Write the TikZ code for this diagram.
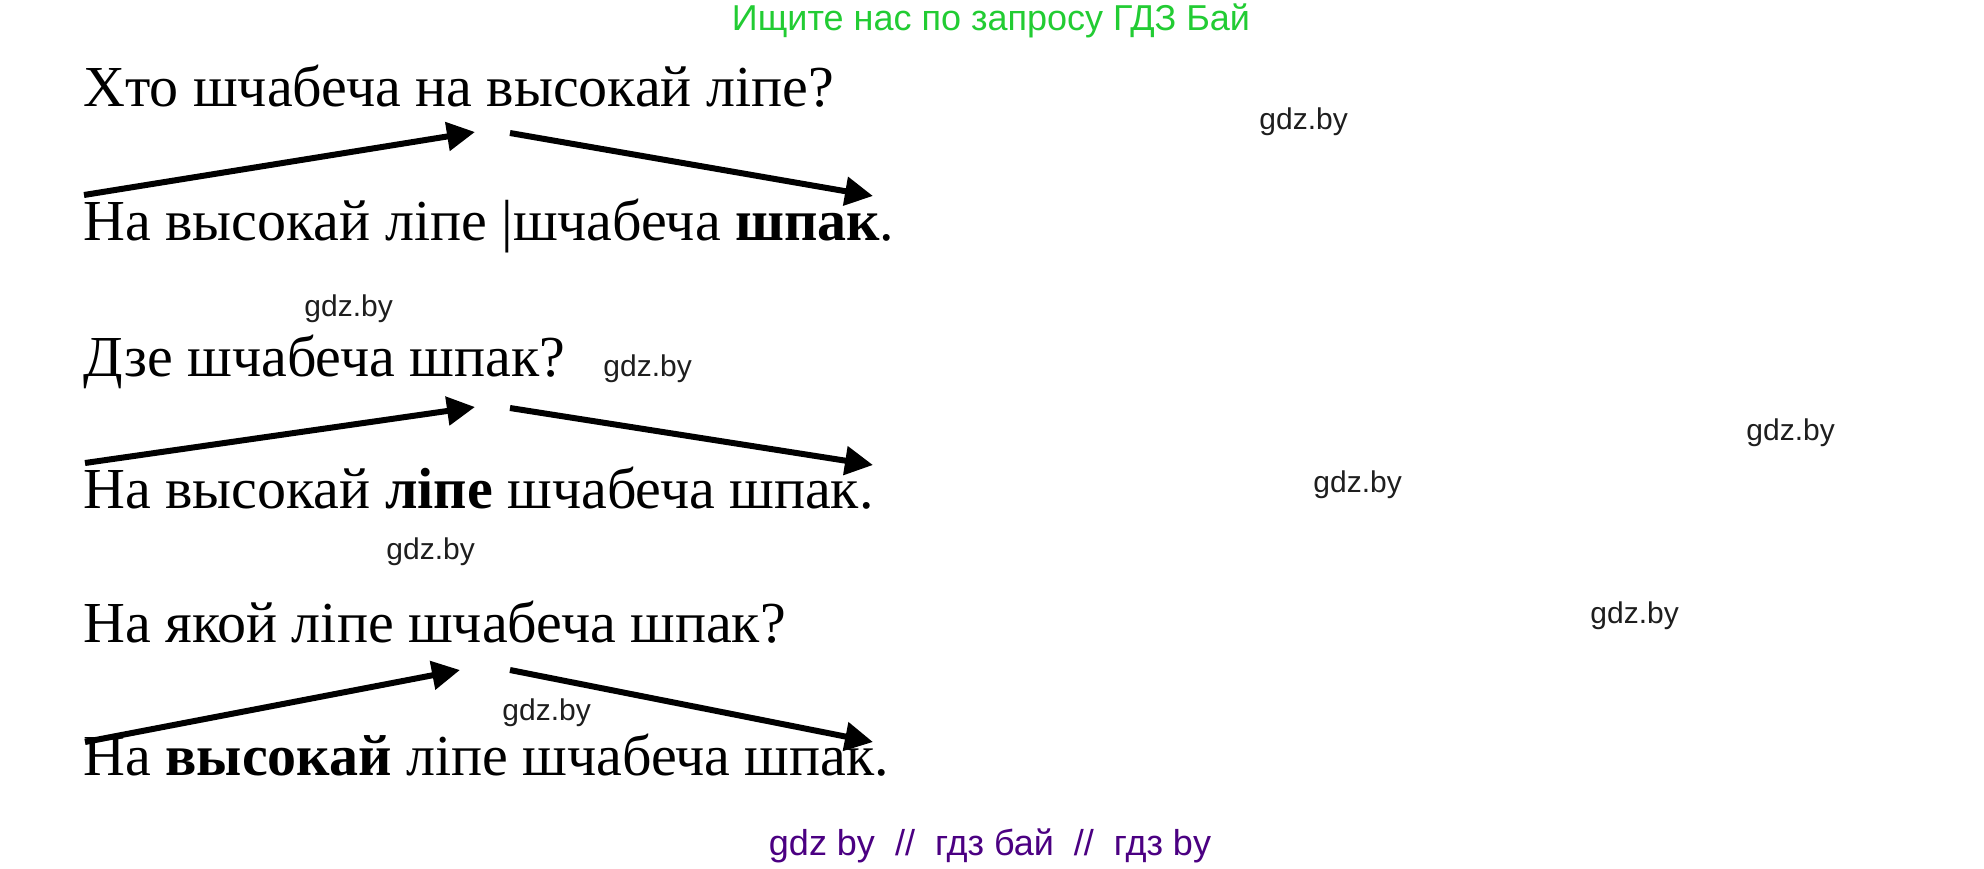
\documentclass[tikz,border=0pt]{standalone}
\usepackage{fontspec}
\setmainfont{Liberation Serif}
\newfontfamily\wmfont{Liberation Sans}
\usetikzlibrary{arrows.meta}
\definecolor{hdrgreen}{RGB}{34,204,51}
\definecolor{ftrpurple}{RGB}{75,0,130}
\definecolor{wmgray}{RGB}{30,30,30}
\tikzset{
  sentence/.style={anchor=base west, inner sep=0pt, font=\fontsize{29pt}{34pt}\selectfont},
  wmark/.style={anchor=base west, inner sep=0pt, text=wmgray, font=\wmfont\fontsize{15pt}{18pt}\selectfont},
  arr/.style={line width=3pt, -{Triangle[length=14pt,width=14pt]}},
}
\begin{document}
\begin{tikzpicture}[x=0.5pt,y=-0.5pt]
\fill[white] (0,0) rectangle (1984,868);
\useasboundingbox (0,0) rectangle (1984,868);

\node[anchor=base, inner sep=0pt, text=hdrgreen, font=\wmfont\fontsize{18pt}{21pt}\selectfont] (hdr) at (991,30) {Ищите нас по запросу ГДЗ Бай};

\node[sentence] (s1) at (83,106) {Хто шчабеча на высокай ліпе?};
\node[sentence] (s2) at (83,240) {На высокай ліпе |шчабеча \textbf{шпак}.};
\node[sentence] (s3) at (83,376) {Дзе шчабеча шпак?};
\node[sentence] (s4) at (83,508) {На высокай \textbf{ліпе} шчабеча шпак.};
\node[sentence] (s5) at (83,642) {На якой ліпе шчабеча шпак?};
\node[sentence] (s6) at (83,775) {На \textbf{высокай} ліпе шчабеча шпак.};

\coordinate (a1s) at (84,195);  \coordinate (a1e) at (475,132);
\coordinate (a2s) at (510,133); \coordinate (a2e) at (873,196);
\coordinate (a3s) at (85,463);  \coordinate (a3e) at (475,407);
\coordinate (a4s) at (510,408); \coordinate (a4e) at (873,465);
\coordinate (a5s) at (85,742);  \coordinate (a5e) at (460,670);
\coordinate (a6s) at (510,670); \coordinate (a6e) at (873,742);
\draw[arr] (a1s) -- (a1e);
\draw[arr] (a2s) -- (a2e);
\draw[arr] (a3s) -- (a3e);
\draw[arr] (a4s) -- (a4e);
\draw[arr] (a5s) -- (a5e);
\draw[arr] (a6s) -- (a6e);

\node[wmark] (w1) at (1259,129) {gdz.by};
\node[wmark] (w2) at (304,316) {gdz.by};
\node[wmark] (w3) at (603,376) {gdz.by};
\node[wmark] (w4) at (1746,440) {gdz.by};
\node[wmark] (w5) at (1313,492) {gdz.by};
\node[wmark] (w6) at (386,559) {gdz.by};
\node[wmark] (w7) at (1590,623) {gdz.by};
\node[wmark] (w8) at (502,720) {gdz.by};

\node[anchor=base, inner sep=0pt, text=ftrpurple, font=\wmfont\fontsize{18pt}{21pt}\selectfont] (ftr) at (990,855) {gdz by\ \ //\ \ гдз бай\ \ //\ \ гдз by};
\end{tikzpicture}
\end{document}
